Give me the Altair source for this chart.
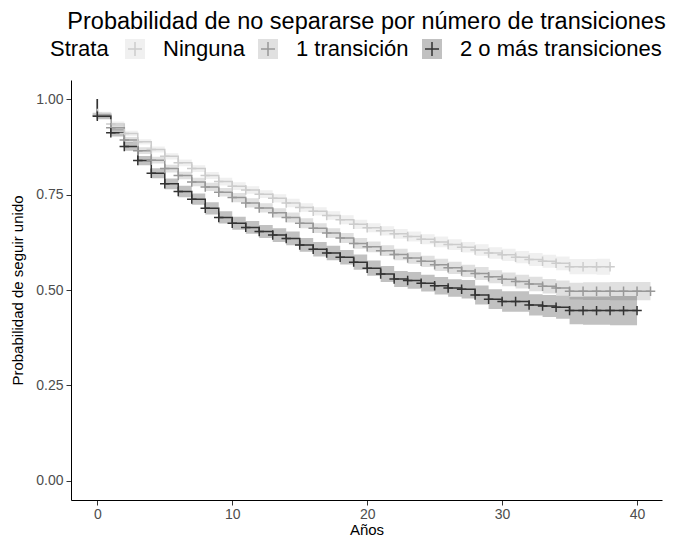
import altair as alt
import pandas as pd

strata = ["Ninguna", "1 transición", "2 o más transiciones"]
codes = ["a", "b", "c"]
line_colors = ["#CCCCCC", "#989898", "#333333"]

# Kaplan-Meier estimates, one value per year (t = 0, 1, 2, ...)
surv_ninguna = [0.962, 0.935, 0.910, 0.888, 0.868, 0.850, 0.833, 0.818, 0.800, 0.784,
                0.772, 0.762, 0.751, 0.740, 0.728, 0.716, 0.706, 0.695, 0.684, 0.672,
                0.663, 0.655, 0.647, 0.640, 0.633, 0.626, 0.619, 0.612, 0.605, 0.597,
                0.592, 0.586, 0.580, 0.575, 0.570, 0.561, 0.561, 0.561, 0.561]
hw_ninguna = [0.005, 0.006, 0.007, 0.007, 0.008, 0.008, 0.009, 0.009, 0.009, 0.010,
              0.010, 0.010, 0.010, 0.011, 0.011, 0.011, 0.011, 0.011, 0.012, 0.012,
              0.012, 0.012, 0.013, 0.013, 0.013, 0.014, 0.014, 0.014, 0.015, 0.015,
              0.016, 0.016, 0.017, 0.017, 0.018, 0.020, 0.020, 0.021, 0.021]

surv_una = [0.958, 0.925, 0.893, 0.865, 0.840, 0.818, 0.800, 0.783, 0.770, 0.756,
            0.742, 0.728, 0.715, 0.702, 0.690, 0.675, 0.662, 0.649, 0.636, 0.622,
            0.613, 0.603, 0.593, 0.584, 0.575, 0.566, 0.558, 0.550, 0.543, 0.535,
            0.528, 0.522, 0.516, 0.510, 0.505, 0.497, 0.497, 0.497, 0.497, 0.497,
            0.497, 0.497]
hw_una = [0.006, 0.007, 0.008, 0.009, 0.009, 0.010, 0.010, 0.011, 0.011, 0.011,
          0.012, 0.012, 0.012, 0.012, 0.013, 0.013, 0.013, 0.013, 0.013, 0.014,
          0.014, 0.014, 0.015, 0.015, 0.015, 0.016, 0.016, 0.016, 0.017, 0.017,
          0.018, 0.018, 0.019, 0.019, 0.020, 0.022, 0.023, 0.023, 0.024, 0.024,
          0.024, 0.024]

surv_dos = [0.955, 0.912, 0.876, 0.839, 0.806, 0.778, 0.758, 0.738, 0.714, 0.690,
            0.675, 0.664, 0.653, 0.644, 0.635, 0.618, 0.607, 0.597, 0.586, 0.573,
            0.557, 0.542, 0.529, 0.525, 0.518, 0.511, 0.505, 0.502, 0.487, 0.476,
            0.470, 0.470, 0.461, 0.458, 0.455, 0.446, 0.446, 0.446, 0.446, 0.446,
            0.446]
hw_dos = [0.008, 0.010, 0.011, 0.012, 0.013, 0.014, 0.015, 0.015, 0.016, 0.016,
          0.017, 0.017, 0.017, 0.018, 0.018, 0.018, 0.019, 0.019, 0.019, 0.020,
          0.020, 0.021, 0.021, 0.022, 0.022, 0.023, 0.023, 0.024, 0.025, 0.026,
          0.027, 0.027, 0.028, 0.029, 0.030, 0.036, 0.037, 0.037, 0.038, 0.038,
          0.038]

x_ticks = [0, 10, 20, 30, 40]
y_ticks = [0, 0.25, 0.5, 0.75, 1.0]

line_rows, band_rows, cens_rows = [], [], []
for name, code, surv, hw in zip(strata, codes, [surv_ninguna, surv_una, surv_dos],
                                [hw_ninguna, hw_una, hw_dos]):
    line_rows.append({"strata": name, "code": code, "t": 0, "s": 1.0, "idx": 0})
    for t, (s, h) in enumerate(zip(surv, hw)):
        line_rows.append({"strata": name, "code": code, "t": t, "s": s, "idx": t + 1})
        band_rows.append({"strata": name, "code": code, "t": t, "lo": s - h, "hi": s + h})
        cens_rows.append({"strata": name, "code": code, "t": t, "s": s})

line_df = pd.DataFrame(line_rows)
band_df = pd.DataFrame(band_rows)
cens_df = pd.DataFrame(cens_rows)

FONT = "Liberation Sans"
xscale = alt.Scale(domain=[-1.95, 41.85], nice=False, zero=False)
yscale = alt.Scale(domain=[-0.05, 1.05], nice=False, zero=False)
fscale = alt.Scale(domain=strata, range=line_colors)
sscale = alt.Scale(domain=codes, range=line_colors)

x_enc = alt.X("t:Q", scale=xscale,
              axis=alt.Axis(values=x_ticks, title="Años", labelPadding=2, titlePadding=1))
y_axis = alt.Axis(values=y_ticks, format=".2f", title="Probabilidad de seguir unido",
                  labelPadding=3, titlePadding=10)

common_leg = dict(orient="none", legendX=-21, legendY=-42, direction="horizontal",
                  titleOrient="left", title="Strata", labelFontSize=22, titleFontSize=22,
                  titleFontWeight="normal", labelFont=FONT, titleFont=FONT,
                  labelColor="black", titleColor="black", labelOffset=17,
                  columnPadding=12, titlePadding=15, columns=3, symbolSize=400,
                  titleBaseline="middle", labelBaseline="middle", labelLimit=400)

fill_legend = alt.Legend(symbolType="square", symbolOpacity=0.3, symbolStrokeWidth=0,
                         zindex=1, **common_leg)
stroke_legend = alt.Legend(
    symbolType="M-0.7,0H0.7M0,-0.7V0.7", symbolStrokeWidth=1.5,
    symbolFillColor="transparent", labelOpacity=0, titleOpacity=0, zindex=2,
    labelExpr="datum.label == 'a' ? '%s' : datum.label == 'b' ? '%s' : '%s'" % tuple(strata),
    **common_leg)

band = alt.Chart(band_df).mark_area(interpolate="step-after", opacity=0.3).encode(
    x=x_enc,
    y=alt.Y("lo:Q", scale=yscale, axis=y_axis),
    y2="hi:Q",
    fill=alt.Fill("strata:N", scale=fscale, legend=fill_legend),
)

line = alt.Chart(line_df).mark_line(interpolate="step-after", strokeWidth=1.5).encode(
    x=x_enc,
    y=alt.Y("s:Q", scale=yscale, axis=y_axis),
    stroke=alt.Stroke("code:N", scale=sscale, legend=stroke_legend),
    order="idx:Q",
)

cens = alt.Chart(cens_df).mark_point(shape="M-1,0H1M0,-1V1", filled=False, size=90,
                                     strokeWidth=1.5, opacity=1).encode(
    x=x_enc,
    y=alt.Y("s:Q", scale=yscale, axis=y_axis),
    stroke=alt.Stroke("code:N", scale=sscale, legend=stroke_legend),
)

chart = alt.layer(band, line, cens).properties(
    width=591, height=420,
    title=alt.TitleParams("Probabilidad de no separarse por número de transiciones",
                          fontSize=23.5, fontWeight="normal", font=FONT, anchor="middle",
                          frame="group", offset=5, color="black"),
    autosize=alt.AutoSizeParams(type="none"),
    padding={"left": 63, "top": 72, "right": 4, "bottom": 36},
).configure_view(stroke=None).configure_axis(
    grid=False, domainColor="black", domainWidth=1, tickColor="#333333", tickSize=5,
    labelColor="#4D4D4D", labelFontSize=14, labelFont=FONT, titleFont=FONT,
    titleFontSize=15, titleColor="black", titleFontWeight="normal",
)

chart.save("out.html", embed_options={"renderer": "svg", "actions": False})
